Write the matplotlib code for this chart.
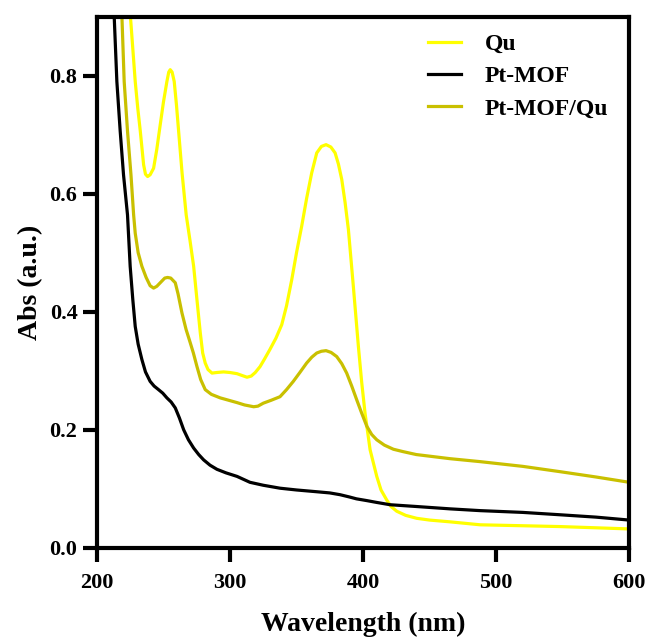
import numpy as np
import matplotlib.pyplot as plt

plt.rcParams['font.family'] = ['Liberation Serif', 'DejaVu Serif']
plt.rcParams['font.weight'] = 'bold'

# Qu
qu_x = [222.0, 225.2, 227.0, 228.8, 230.7, 232.6, 235.1, 236.5, 238.1, 240.0, 242.6, 245.0,
        247.6, 250.0, 252.6, 254.0, 255.1, 256.5, 258.1, 259.8, 261.4, 264.0, 267.1, 270.0,
        272.7, 275.2, 277.7, 279.5, 281.4, 283.5, 286.5, 290.0, 295.2, 300.0, 305.3, 309.0,
        312.8, 316.0, 319.0, 322.6, 326.0, 330.0, 334.5, 338.9, 342.5, 346.4, 350.0, 353.9,
        357.6, 361.4, 365.2, 368.7, 372.2, 375.8, 379.0, 381.5, 384.0, 386.5, 389.0, 392.7,
        396.5, 399.0, 401.5, 405.3, 410.3, 413.5, 417.8, 421.0, 425.3, 432.0, 440.3, 450.0,
        465.4, 488.0, 548.0, 600.0]
qu_y = [0.96, 0.90, 0.845, 0.79, 0.745, 0.706, 0.649, 0.633, 0.629, 0.632, 0.643, 0.675,
        0.717, 0.755, 0.79, 0.806, 0.81, 0.806, 0.79, 0.75, 0.706, 0.635, 0.564, 0.52,
        0.477, 0.42, 0.364, 0.33, 0.313, 0.302, 0.296, 0.297, 0.298, 0.297, 0.295, 0.292,
        0.289, 0.291, 0.297, 0.307, 0.32, 0.336, 0.355, 0.378, 0.41, 0.454, 0.50, 0.545,
        0.592, 0.635, 0.669, 0.68, 0.683, 0.679, 0.669, 0.65, 0.624, 0.585, 0.539, 0.443,
        0.341, 0.28, 0.228, 0.166, 0.121, 0.098, 0.081, 0.07, 0.062, 0.055, 0.05, 0.047,
        0.044, 0.039, 0.036, 0.032]

# Pt-MOF
mof_x = [210.0, 213.0, 215.0, 217.5, 220.0, 223.0, 225.0, 227.0, 228.8, 231.0, 233.8, 236.5,
         240.0, 243.0, 246.3, 249.5, 252.6, 255.8, 258.9, 262.0, 265.2, 268.8, 272.7, 276.5,
         280.2, 285.0, 290.2, 297.0, 305.3, 315.0, 325.0, 337.6, 350.0, 365.2, 375.0, 382.7,
         390.0, 395.0, 402.8, 410.0, 420.3, 440.0, 465.4, 488.0, 520.0, 548.0, 575.0, 600.0]
mof_y = [0.96, 0.90, 0.79, 0.706, 0.632, 0.564, 0.477, 0.42, 0.375, 0.345, 0.319, 0.298,
         0.282, 0.274, 0.268, 0.262, 0.254, 0.247, 0.237, 0.22, 0.20, 0.183, 0.169, 0.158,
         0.149, 0.14, 0.133, 0.127, 0.121, 0.111, 0.106, 0.101, 0.098, 0.095, 0.093, 0.09,
         0.086, 0.083, 0.08, 0.077, 0.073, 0.07, 0.066, 0.063, 0.06, 0.056, 0.052, 0.047]

# Pt-MOF/Qu
mq_x = [216.0, 218.8, 220.5, 223.0, 225.6, 227.6, 228.8, 231.0, 233.8, 237.0, 240.0, 242.6,
        245.0, 248.0, 251.0, 253.1, 255.5, 258.9, 261.0, 263.9, 267.0, 270.2, 272.5, 275.2,
        278.0, 281.4, 286.0, 292.7, 299.0, 305.3, 311.0, 317.8, 321.0, 325.0, 331.0, 337.6,
        342.5, 347.6, 352.5, 357.6, 361.5, 365.2, 368.7, 372.2, 376.0, 380.2, 384.0, 387.7,
        391.5, 395.2, 399.0, 402.8, 406.5, 410.3, 416.0, 422.8, 430.0, 440.0, 465.4, 488.0,
        520.0, 548.0, 575.0, 600.0]
mq_y = [0.96, 0.90, 0.79, 0.706, 0.632, 0.564, 0.533, 0.50, 0.477, 0.458, 0.444, 0.44,
        0.443, 0.45, 0.457, 0.458, 0.457, 0.449, 0.43, 0.398, 0.37, 0.347, 0.33, 0.307,
        0.285, 0.268, 0.26, 0.254, 0.25, 0.246, 0.242, 0.239, 0.24, 0.245, 0.25, 0.256,
        0.268, 0.282, 0.297, 0.313, 0.323, 0.33, 0.333, 0.334, 0.331, 0.324, 0.312, 0.296,
        0.274, 0.251, 0.228, 0.206, 0.192, 0.183, 0.174, 0.167, 0.163, 0.158, 0.151, 0.146,
        0.138, 0.129, 0.12, 0.111]

fig = plt.figure(figsize=(6.46, 6.37), dpi=100)
ax = fig.add_axes([0.150, 0.140, 0.824, 0.834])

ax.plot(qu_x, qu_y, color='#FFFF00', lw=2.3, label='Qu')
ax.plot(mof_x, mof_y, color='black', lw=2.3, label='Pt-MOF')
ax.plot(mq_x, mq_y, color='#C9C000', lw=2.3, label='Pt-MOF/Qu')

ax.set_xlim(200, 600)
ax.set_ylim(0, 0.9)
ax.set_xticks([200, 300, 400, 500, 600])
ax.set_yticks([0.0, 0.2, 0.4, 0.6, 0.8])
ax.set_yticklabels(['0.0', '0.2', '0.4', '0.6', '0.8'])

for s in ax.spines.values():
    s.set_linewidth(3)
ax.tick_params(width=3, length=10, labelsize=16, direction='out')
ax.tick_params(axis='x', pad=8)
ax.tick_params(axis='y', pad=4)
for lbl in ax.get_xticklabels() + ax.get_yticklabels():
    lbl.set_fontweight('bold')

ax.set_xlabel('Wavelength (nm)', fontsize=20, fontweight='bold', labelpad=14)
ax.set_ylabel('Abs (a.u.)', fontsize=20, fontweight='bold', labelpad=5)

ax.legend(loc='upper left', bbox_to_anchor=(0.622, 0.968), frameon=False,
          handlelength=1.4, handletextpad=1.0, labelspacing=0.45,
          borderaxespad=0, borderpad=0, prop={'weight': 'bold', 'size': 17})

fig.savefig('out.png', dpi=100)
